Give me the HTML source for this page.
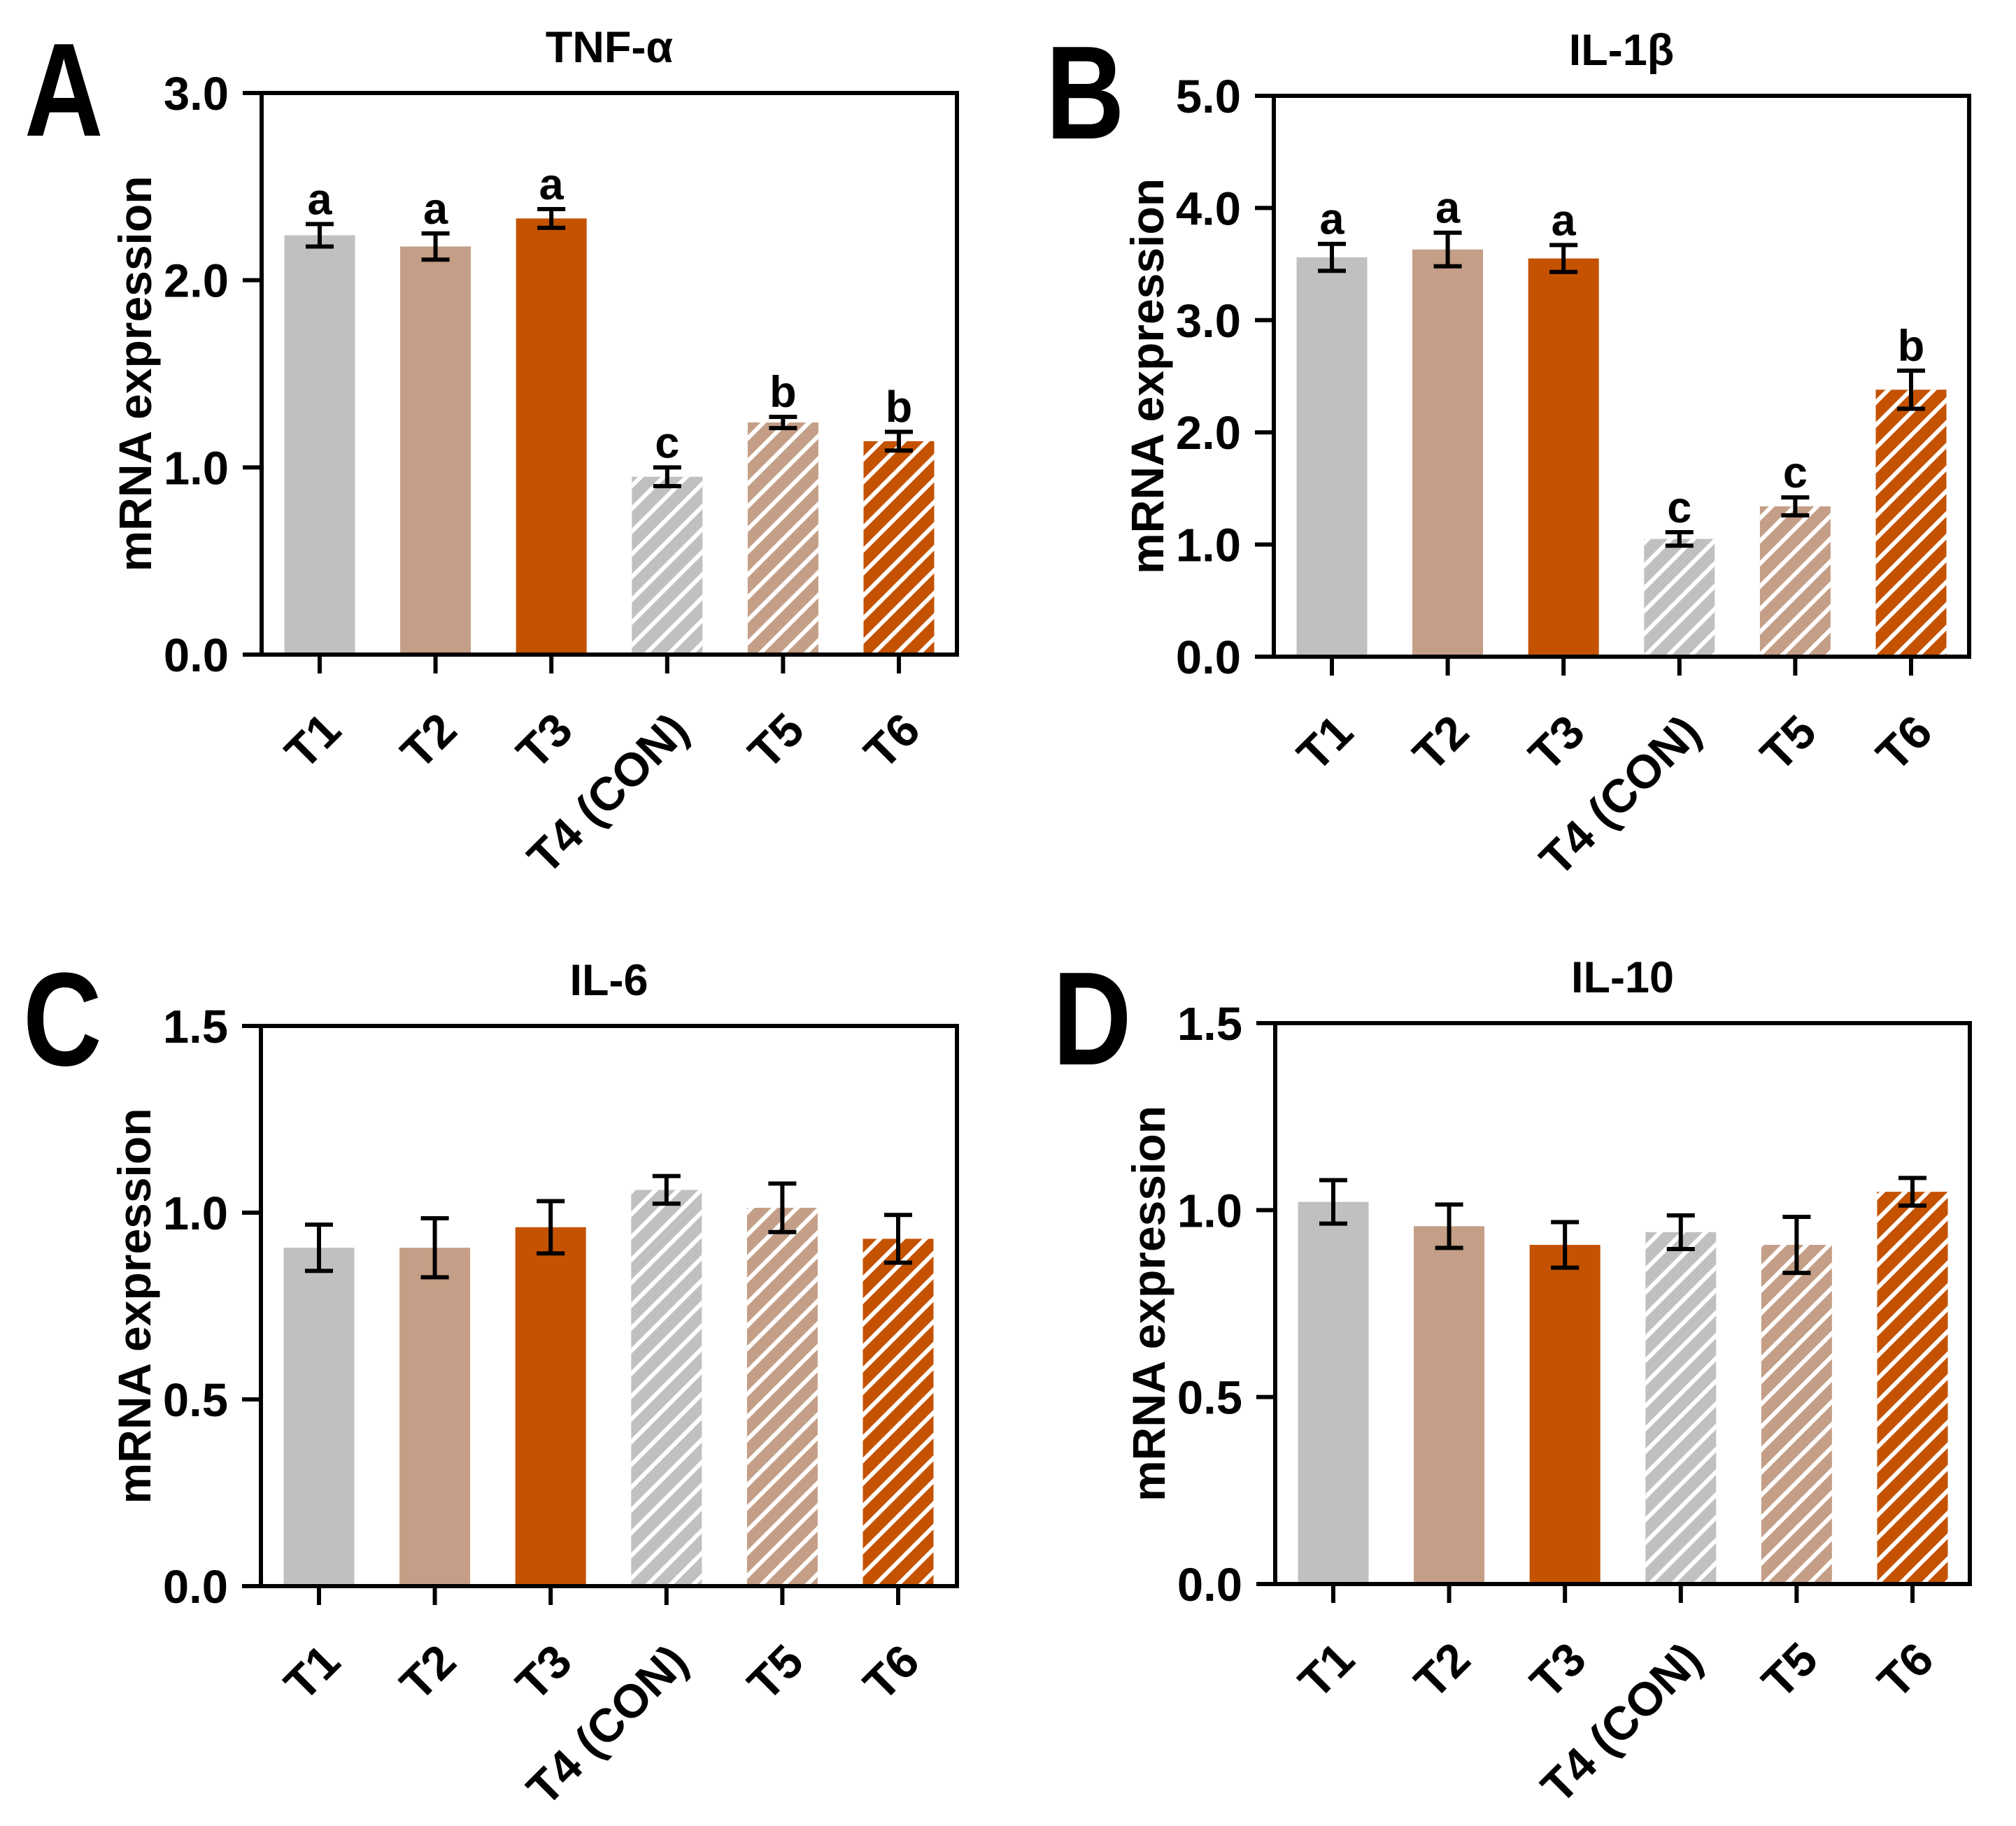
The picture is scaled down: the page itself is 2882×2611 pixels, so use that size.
<!DOCTYPE html>
<html><head><meta charset="utf-8">
<style>
html,body{margin:0;padding:0;background:#fff;}
svg{display:block;font-family:"Liberation Sans",Arial,sans-serif;}
</style></head>
<body>
<svg id="fig" width="2882" height="2611" viewBox="0 0 2882 2611" xmlns="http://www.w3.org/2000/svg">
<defs>
<pattern id="hatch" patternUnits="userSpaceOnUse" width="23" height="23" patternTransform="rotate(45)">
<rect x="0" y="0" width="6" height="23" fill="#ffffff"/>
</pattern>
</defs>
</svg>
<script>
const categories = ["T1","T2","T3","T4 (CON)","T5","T6"];
const tnfValues = [2.24,2.18,2.33,0.95,1.24,1.14];
const tnfErrors = [0.06,0.07,0.05,0.05,0.03,0.05];
const tnfLetters = ["a","a","a","c","b","b"];
const tnfTicks = ["0.0","1.0","2.0","3.0"];
const il1Values = [3.56,3.63,3.55,1.05,1.34,2.38];
const il1Errors = [0.12,0.15,0.12,0.06,0.08,0.17];
const il1Letters = ["a","a","a","c","c","b"];
const il1Ticks = ["0.0","1.0","2.0","3.0","4.0","5.0"];
const il6Values = [0.906,0.906,0.961,1.061,1.013,0.93];
const il6Errors = [0.062,0.079,0.07,0.037,0.065,0.064];
const il6Ticks = ["0.0","0.5","1.0","1.5"];
const il10Values = [1.022,0.957,0.907,0.941,0.907,1.049];
const il10Errors = [0.058,0.058,0.061,0.045,0.075,0.037];
const il10Ticks = ["0.0","0.5","1.0","1.5"];

const NS = "http://www.w3.org/2000/svg";
const svg = document.getElementById("fig");
const colors = ["#c0c0c0","#c49e86","#c45200","#c0c0c0","#c49e86","#c45200"];

function mk(tag, attrs, parent){
  const e = document.createElementNS(NS, tag);
  for (const k in attrs) e.setAttribute(k, attrs[k]);
  (parent||svg).appendChild(e);
  return e;
}

function panel(cfg){
  const g = mk("g", {});
  
  
  const L=cfg.left, R=cfg.right, T=cfg.top, B=cfg.bottom;
  const maxV = parseFloat(cfg.ticks[cfg.ticks.length-1]);
  const y = v => B - (v/maxV)*(B-T);
  const x = i => L + 83 + i*165.6;
  const bw = 101;
  const pl = mk("text", {x:0,y:0,"font-size":190,"font-weight":"bold",fill:"#000",transform:`translate(${cfg.letterX},${cfg.letterY}) scale(0.82,1)`}, g);
  pl.textContent = cfg.letter;
  
  
  const tt = mk("text", {x:(L+R)/2,y:T-44,"font-size":63,"font-weight":"bold","text-anchor":"middle",fill:"#000"}, g);
  tt.textContent = cfg.title;
  
  
  const yt = mk("text", {x:0,y:0,"font-size":66,"font-weight":"bold","text-anchor":"middle",fill:"#000",transform:`translate(${L-158},${(T+B)/2}) rotate(-90)`}, g);
  yt.textContent = "mRNA expression";
  
  
  for (let i=0;i<6;i++){
    const cx = x(i), top = y(cfg.values[i]);
    const bar = mk("rect", {x:cx-bw/2,y:top,width:bw,height:B-top,fill:colors[i]}, g);
    
    
    if (i>=3){
      const h = mk("rect", {x:cx-bw/2,y:top,width:bw,height:B-top,fill:"url(#hatch)"}, g);
      
      
    }
    const eTop = y(cfg.values[i]+cfg.errors[i]), eBot = y(cfg.values[i]-cfg.errors[i]);
    const eg = mk("g", {stroke:"#000","stroke-width":6,fill:"none"}, g);
    
    
    mk("line", {x1:cx,x2:cx,y1:eTop,y2:eBot}, eg);
    mk("line", {x1:cx-20,x2:cx+20,y1:eTop,y2:eTop}, eg);
    mk("line", {x1:cx-20,x2:cx+20,y1:eBot,y2:eBot}, eg);
    if (cfg.letters){
      const lt = mk("text", {x:cx,y:eTop-14,"font-size":63,"font-weight":"bold","text-anchor":"middle",fill:"#000"}, g);
      lt.textContent = cfg.letters[i];
      
      
    }
    mk("line", {x1:cx,x2:cx,y1:B,y2:B+27,stroke:"#000","stroke-width":6}, g);
    const xl = mk("text", {x:0,y:0,"font-size":67,"font-weight":"bold","text-anchor":"end",fill:"#000",transform:`translate(${cx+34},${B+112}) rotate(-45)`}, g);
    xl.textContent = categories[i];
    
    
  }
  const fr = mk("rect", {x:L,y:T,width:R-L,height:B-T,fill:"none",stroke:"#000","stroke-width":6}, g);
  
  
  for (const t of cfg.ticks){
    const v = parseFloat(t), ty = y(v);
    mk("line", {x1:L-27,x2:L,y1:ty,y2:ty,stroke:"#000","stroke-width":6}, g);
    const tl = mk("text", {x:L-47,y:ty+24,"font-size":67,"font-weight":"bold","text-anchor":"end",fill:"#000"}, g);
    tl.textContent = t;
    
    
  }
}

panel({name:"panel-a-tnf",letter:"A",letterX:35,letterY:194,title:"TNF-\u03b1",left:374,right:1368,top:133,bottom:936,values:tnfValues,errors:tnfErrors,letters:tnfLetters,ticks:tnfTicks});
panel({name:"panel-b-il1b",letter:"B",letterX:1495,letterY:198,title:"IL-1\u03b2",left:1821,right:2815,top:137,bottom:939,values:il1Values,errors:il1Errors,letters:il1Letters,ticks:il1Ticks});
panel({name:"panel-c-il6",letter:"C",letterX:33,letterY:1523,title:"IL-6",left:373,right:1368,top:1467,bottom:2268,values:il6Values,errors:il6Errors,letters:null,ticks:il6Ticks});
panel({name:"panel-d-il10",letter:"D",letterX:1505,letterY:1522,title:"IL-10",left:1823,right:2816,top:1463,bottom:2265,values:il10Values,errors:il10Errors,letters:null,ticks:il10Ticks});
</script>
</body></html>
